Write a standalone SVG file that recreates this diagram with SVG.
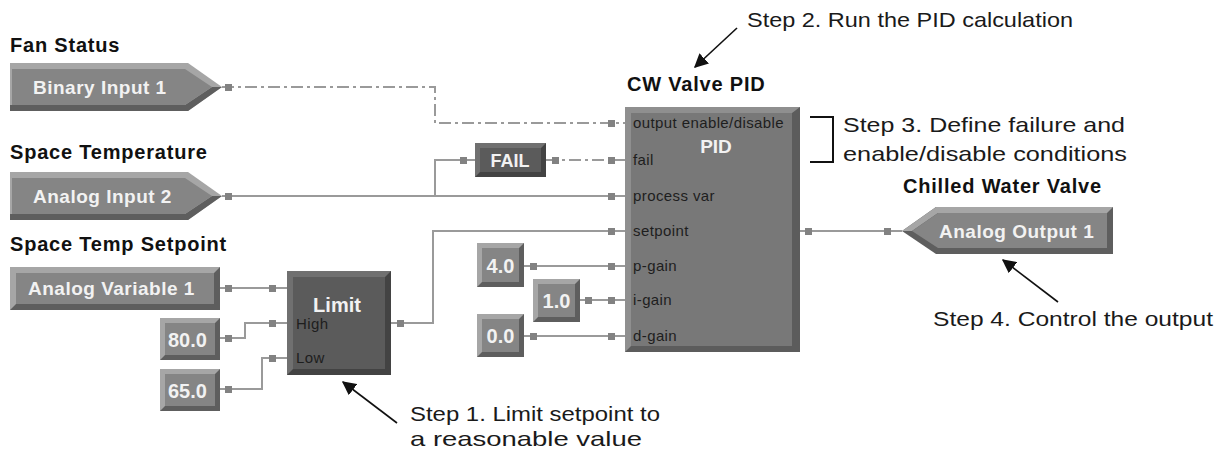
<svg xmlns="http://www.w3.org/2000/svg" width="1219" height="451" viewBox="0 0 1219 451">
<style>
.hdr{font-family:"Liberation Sans",Arial,sans-serif;font-weight:bold;font-size:20px;letter-spacing:0.8px;fill:#111}
.ntx{font-family:"Liberation Sans",Arial,sans-serif;font-weight:bold;font-size:19px;letter-spacing:0.5px;fill:#f2f2f2}
.num{font-family:"Liberation Sans",Arial,sans-serif;font-weight:bold;font-size:20px;fill:#f2f2f2}
.pin{font-family:"Liberation Sans",Arial,sans-serif;font-size:15px;letter-spacing:0.4px;fill:#1e1e1e}
.step{font-family:"Liberation Sans",Arial,sans-serif;font-size:21px;fill:#1a1a1a}
.lt{fill:#a6a6a6}.dk{fill:#5e5e5e}.fc{fill:#858585}
.dlt{fill:#707070}.ddk{fill:#434343}.dfc{fill:#5b5b5b}
.plt{fill:#8f8f8f}.pdk{fill:#5c5c5c}.pfc{fill:#787878}
.wire{fill:none;stroke:#9a9a9a;stroke-width:2}
.dash{stroke-dasharray:12 4 3 4}
.sq{fill:#828282}
.ann{fill:none;stroke:#111;stroke-width:1.6}
</style>
<defs>
<marker id="ah" viewBox="0 0 10 10" refX="9" refY="5" markerWidth="9" markerHeight="9" markerUnits="userSpaceOnUse" orient="auto">
<path d="M0,0 L10,5 L0,10 z" fill="#111"/>
</marker>
<marker id="ahb" viewBox="0 0 10 10" refX="9" refY="5" markerWidth="14" markerHeight="14" markerUnits="userSpaceOnUse" orient="auto">
<path d="M0,0 L10,5 L0,10 z" fill="#111"/>
</marker>
</defs>
<rect width="1219" height="451" fill="#fff"/>

<g id="connectors">
<path class="wire dash" d="M222,87 H435 V123 H625"/>
<path class="wire" d="M222,196 H625"/>
<path class="wire" d="M435,196 V160 H475"/>
<path class="wire dash" d="M546,160 H625"/>
<path class="wire" d="M220,288 H287"/>
<path class="wire" d="M220,338 H245 V323 H287"/>
<path class="wire" d="M220,389 H262 V358 H287"/>
<path class="wire" d="M391,323 H433 V231 H625"/>
<path class="wire" d="M524,266 H625"/>
<path class="wire" d="M580,300 H625"/>
<path class="wire" d="M524,336 H625"/>
<path class="wire" d="M800,231 H902"/>
<g class="sq">
<rect x="225" y="84" width="7" height="7"/>
<rect x="608" y="120" width="7" height="7"/>
<rect x="225" y="193" width="7" height="7"/>
<rect x="608" y="193" width="7" height="7"/>
<rect x="460" y="157" width="7" height="7"/>
<rect x="552" y="157" width="7" height="7"/>
<rect x="608" y="157" width="7" height="7"/>
<rect x="225" y="285" width="7" height="7"/>
<rect x="269" y="285" width="7" height="7"/>
<rect x="225" y="335" width="7" height="7"/>
<rect x="269" y="320" width="7" height="7"/>
<rect x="225" y="386" width="7" height="7"/>
<rect x="269" y="355" width="7" height="7"/>
<rect x="397" y="320" width="7" height="7"/>
<rect x="608" y="228" width="7" height="7"/>
<rect x="530" y="263" width="7" height="7"/>
<rect x="608" y="263" width="7" height="7"/>
<rect x="585" y="297" width="7" height="7"/>
<rect x="608" y="297" width="7" height="7"/>
<rect x="530" y="333" width="7" height="7"/>
<rect x="608" y="333" width="7" height="7"/>
<rect x="805" y="228" width="7" height="7"/>
<rect x="884" y="228" width="7" height="7"/>
</g>
</g>

<g id="binary-input-1">
<text class="hdr" x="10" y="52">Fan Status</text>
<polygon class="lt" points="10,63 188,63 222,87 188,111 10,111"/>
<polygon class="dk" points="10,111 188,111 222,87 212,87 185,105 10,105"/>
<polygon class="fc" points="12,69 185,69 212,87 185,105 12,105"/>
<text class="ntx" x="33" y="94">Binary Input 1</text>
</g>

<g id="analog-input-2">
<text class="hdr" x="10" y="159">Space Temperature</text>
<polygon class="lt" points="10,172 188,172 222,196 188,220 10,220"/>
<polygon class="dk" points="10,220 188,220 222,196 212,196 185,214 10,214"/>
<polygon class="fc" points="12,178 185,178 212,196 185,214 12,214"/>
<text class="ntx" x="33" y="203">Analog Input 2</text>
</g>

<g id="analog-variable-1">
<text class="hdr" x="10" y="251">Space Temp Setpoint</text>
<rect class="dk" x="10" y="267" width="210" height="43"/>
<polygon class="lt" points="10,267 220,267 214,273 16,273 16,304 10,310"/>
<rect class="fc" x="16" y="273" width="198" height="31"/>
<text class="ntx" x="28" y="295">Analog Variable 1</text>
</g>

<g id="const-80">
<rect class="dk" x="160" y="318" width="60" height="42"/>
<polygon class="lt" points="160,318 220,318 215,323 165,323 165,355 160,360"/>
<rect class="fc" x="165" y="323" width="50" height="32"/>
<text class="num" x="168" y="347">80.0</text>
</g>

<g id="const-65">
<rect class="dk" x="160" y="369" width="60" height="42"/>
<polygon class="lt" points="160,369 220,369 215,374 165,374 165,406 160,411"/>
<rect class="fc" x="165" y="374" width="50" height="32"/>
<text class="num" x="168" y="398">65.0</text>
</g>

<g id="limit">
<rect class="ddk" x="287" y="271" width="104" height="104"/>
<polygon class="dlt" points="287,271 391,271 385,277 293,277 293,369 287,375"/>
<rect class="dfc" x="293" y="277" width="92" height="92"/>
<text class="num" x="337" y="312" text-anchor="middle">Limit</text>
<text class="pin" x="296" y="329">High</text>
<text class="pin" x="296" y="363">Low</text>
</g>

<g id="fail">
<rect class="ddk" x="475" y="143" width="71" height="34"/>
<polygon class="dlt" points="475,143 546,143 541,148 480,148 480,172 475,177"/>
<rect class="dfc" x="480" y="148" width="61" height="24"/>
<text class="num" x="510" y="167" text-anchor="middle" style="font-size:18px">FAIL</text>
</g>

<g id="const-4">
<rect class="dk" x="477" y="243" width="47" height="44"/>
<polygon class="lt" points="477,243 524,243 519,248 482,248 482,282 477,287"/>
<rect class="fc" x="482" y="248" width="37" height="34"/>
<text class="num" x="500.5" y="273" text-anchor="middle">4.0</text>
</g>

<g id="const-1">
<rect class="dk" x="533" y="279" width="47" height="43"/>
<polygon class="lt" points="533,279 580,279 575,284 538,284 538,317 533,322"/>
<rect class="fc" x="538" y="284" width="37" height="33"/>
<text class="num" x="556.5" y="308" text-anchor="middle">1.0</text>
</g>

<g id="const-0">
<rect class="dk" x="477" y="314" width="47" height="43"/>
<polygon class="lt" points="477,314 524,314 519,319 482,319 482,352 477,357"/>
<rect class="fc" x="482" y="319" width="37" height="33"/>
<text class="num" x="500.5" y="343" text-anchor="middle">0.0</text>
</g>

<g id="cw-valve-pid">
<text class="hdr" x="627" y="91">CW Valve PID</text>
<rect class="pdk" x="625" y="107" width="175" height="245"/>
<polygon class="plt" points="625,107 800,107 792,113 631,113 631,346 625,352"/>
<rect class="pfc" x="631" y="113" width="161" height="233"/>
<text class="num" x="716" y="153" text-anchor="middle" style="font-size:19px">PID</text>
<text class="pin" x="633" y="128">output enable/disable</text>
<text class="pin" x="633" y="165">fail</text>
<text class="pin" x="633" y="201">process var</text>
<text class="pin" x="633" y="236">setpoint</text>
<text class="pin" x="633" y="271">p-gain</text>
<text class="pin" x="633" y="305">i-gain</text>
<text class="pin" x="633" y="341">d-gain</text>
</g>

<g id="analog-output-1">
<text class="hdr" x="903" y="193">Chilled Water Valve</text>
<polygon class="dk" points="902,231 936,207 1113,207 1113,254 936,254"/>
<polygon class="lt" points="902,231 936,207 1113,207 1107,213 938,213 912,231"/>
<polygon class="fc" points="912,231 938,213 1107,213 1107,248 938,248"/>
<text class="ntx" x="939" y="238">Analog Output 1</text>
</g>

<g id="annotations">
<line class="ann" x1="737" y1="28" x2="695" y2="67" marker-end="url(#ahb)"/>
<text class="step" x="747" y="27" textLength="326" lengthAdjust="spacingAndGlyphs">Step 2. Run the PID calculation</text>
<polyline class="ann" style="stroke-width:2" points="810,117 833,117 833,162 810,162"/>
<text class="step" x="843" y="132" textLength="282" lengthAdjust="spacingAndGlyphs">Step 3. Define failure and</text>
<text class="step" x="843" y="161" textLength="284" lengthAdjust="spacingAndGlyphs">enable/disable conditions</text>
<line class="ann" x1="1058" y1="302" x2="1003" y2="260" marker-end="url(#ahb)"/>
<text class="step" x="933" y="326" textLength="280" lengthAdjust="spacingAndGlyphs">Step 4. Control the output</text>
<line class="ann" x1="397" y1="423" x2="343" y2="382" marker-end="url(#ahb)"/>
<text class="step" x="410" y="421" textLength="250" lengthAdjust="spacingAndGlyphs">Step 1. Limit setpoint to</text>
<text class="step" x="410" y="446" textLength="232" lengthAdjust="spacingAndGlyphs">a reasonable value</text>
</g>
</svg>
